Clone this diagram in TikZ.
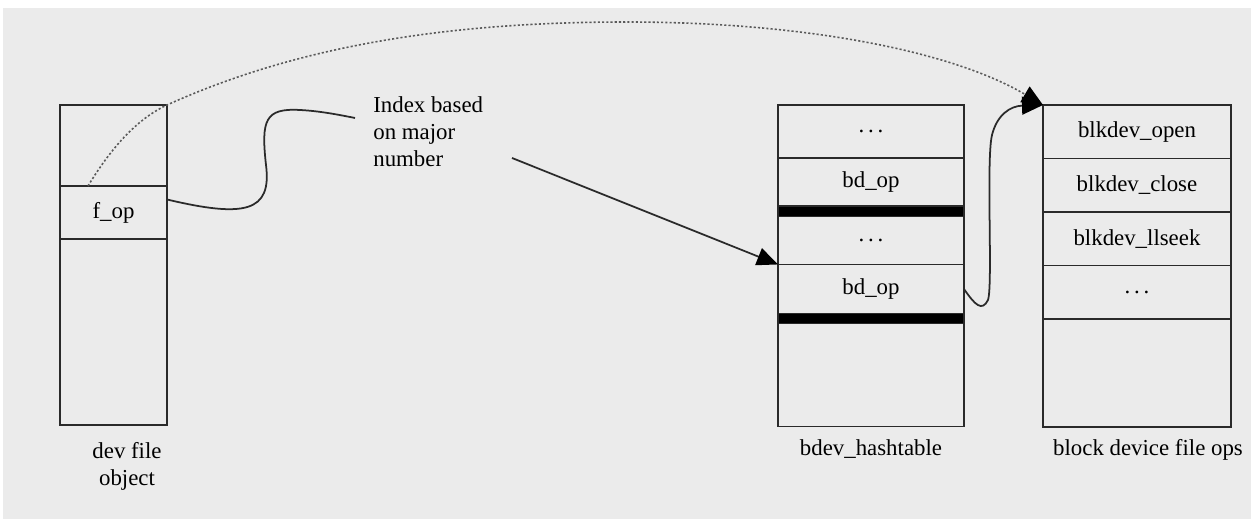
\documentclass[tikz,border=0pt]{standalone}
\usepackage{fontspec}
\setmainfont{Liberation Serif}
\usetikzlibrary{arrows.meta,positioning,calc}
\definecolor{bggray}{HTML}{EBEBEB}
\definecolor{inkgray}{HTML}{2A2A2A}
\definecolor{dotgray}{HTML}{5A5A5A}

\begin{document}
\begin{tikzpicture}[
        x=0.02cm, y=-0.02cm,
        cell/.style={
          draw=inkgray,
          line width=0.9pt,
          inner sep=0pt,
          outer sep=0pt,
          font=\fontsize{13}{15}\selectfont
        },
        fcell/.style={cell, minimum width=2.14cm},
        hcell/.style={cell, minimum width=3.72cm},
        ocell/.style={cell, minimum width=3.76cm},
        bar/.style={hcell, fill=black, minimum height=0.21cm},
        lbl/.style={
          inner sep=0pt,
          align=center,
          font=\fontsize{13}{15.5}\selectfont
        },
        link/.style={
          line width=1pt,
          inkgray
        },
        tip/.style={
          -{Triangle[length=0.42cm, width=0.36cm, black]}
        }
      ]

      % background
      \useasboundingbox (0,0) rectangle (1251,519);
      \fill[bggray] (3,8) rectangle (1251,519);

      % dev file object
      \node[fcell, minimum height=1.62cm, anchor=north west] (ftop) at (60,105) {};
      \node[fcell, minimum height=1.06cm, below=0pt of ftop] (fop) {f\_op};
      \node[fcell, minimum height=3.72cm, below=0pt of fop] (fbot) {};

      % bdev_hashtable
      \node[hcell, minimum height=1.06cm, anchor=north west] (hdots1) at (778,105) {.\,.\,.};
      \node[hcell, minimum height=0.96cm, below=0pt of hdots1] (hbd1) {bd\_op};
      \node[bar, below=0pt of hbd1] (hbar1) {};
      \node[hcell, minimum height=0.96cm, below=0pt of hbar1] (hdots2) {.\,.\,.};
      \node[hcell, minimum height=0.98cm, below=0pt of hdots2] (hbd2) {bd\_op};
      \node[bar, minimum height=0.2cm, below=0pt of hbd2] (hbar2) {};
      \node[hcell, minimum height=2.06cm, below=0pt of hbar2] (hbot) {};

      % block device file ops
      \node[ocell, minimum height=1.07cm, anchor=north west] (oopen) at (1043,105) {blkdev\_open};
      \node[ocell, minimum height=1.07cm, below=0pt of oopen] (oclose) {blkdev\_close};
      \node[ocell, minimum height=1.07cm, below=0pt of oclose] (oseek) {blkdev\_llseek};
      \node[ocell, minimum height=1.07cm, below=0pt of oseek] (odots) {.\,.\,.};
      \node[ocell, minimum height=2.16cm, below=0pt of odots] (obot) {};

      % labels
      \node[lbl, anchor=north west, align=left] (idx) at (373,96) {Index based\\on major\\number};
      \node[lbl, anchor=base] (lfile) at (127,486) {dev file\\object};
      \node[lbl, anchor=base] (lhash) at (871,456) {bdev\_hashtable};
      \node[lbl, anchor=base] (lops) at (1148,456) {block device file ops};

      \coordinate (wigend) at (355,118);
      \coordinate (idxtail) at (512,158);

      % connectors
      \draw[dotgray, line width=0.9pt, dash pattern=on 1.2pt off 1.2pt, tip]
        ($(ftop.south west)+(28,0)$) .. controls (110,150) and (135,120) .. (ftop.north east)
        .. controls (300,45) and (450,22) .. (627,22)
        .. controls (800,22) and (950,50) .. (oopen.north west);
      \draw[link]
        ($(fop.east)+(0,-13)$) .. controls (245,218) and (272,212) .. (266,165)
        .. controls (261,120) and (265,108) .. (300,110)
        .. controls (320,111) and (340,115) .. (wigend);
      \draw[link, tip] (idxtail) -- (hbd2.north west);
      \draw[link, tip]
        (hbd2.east) .. controls (975,305) and (982,312) .. (988,300)
        .. controls (993,285) and (986,160) .. (992,135)
        .. controls (997,115) and (1010,106) .. (oopen.north west);

      \end{tikzpicture}
\end{document}
